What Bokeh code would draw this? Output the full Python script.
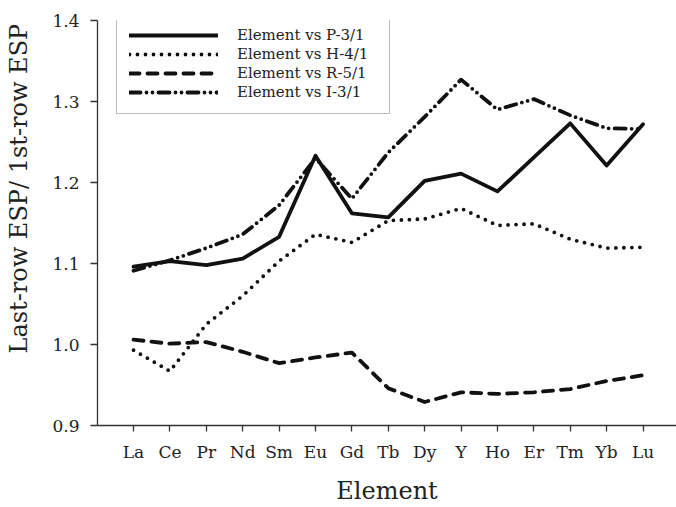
from bokeh.plotting import figure
from bokeh.models import Range1d, FixedTicker, Legend, LegendItem, ColumnDataSource
from bokeh.embed import file_html
from bokeh.resources import INLINE

elements = ["La", "Ce", "Pr", "Nd", "Sm", "Eu", "Gd", "Tb", "Dy", "Y", "Ho", "Er", "Tm", "Yb", "Lu"]
p_3_1 = [1.096, 1.103, 1.098, 1.106, 1.133, 1.233, 1.162, 1.157, 1.202, 1.211, 1.189, 1.231, 1.273, 1.221, 1.272]
h_4_1 = [0.993, 0.967, 1.025, 1.060, 1.103, 1.136, 1.126, 1.153, 1.155, 1.168, 1.147, 1.149, 1.130, 1.119, 1.120]
r_5_1 = [1.006, 1.001, 1.003, 0.991, 0.977, 0.984, 0.990, 0.946, 0.929, 0.941, 0.939, 0.941, 0.945, 0.955, 0.962]
i_3_1 = [1.091, 1.104, 1.119, 1.136, 1.172, 1.230, 1.180, 1.237, 1.281, 1.327, 1.290, 1.303, 1.283, 1.267, 1.266]
series_labels = ["Element vs P-3/1", "Element vs H-4/1", "Element vs R-5/1", "Element vs I-3/1"]
y_ticks = [0.9, 1.0, 1.1, 1.2, 1.3, 1.4]
y_tick_labels = ["0.9", "1.0", "1.1", "1.2", "1.3", "1.4"]
x_title = "Element"
y_title = "Last-row ESP/ 1st-row ESP"

xs = list(range(len(elements)))
src = ColumnDataSource(dict(x=xs, p=p_3_1, h=h_4_1, r=r_5_1, i=i_3_1))

FONT = "DejaVu Serif"
TXT = "#222222"

p = figure(width=676, height=507, output_backend="svg", toolbar_location=None,
           x_range=Range1d(-0.99, 14.92), y_range=Range1d(0.9, 1.4),
           min_border_left=97, min_border_right=0, min_border_top=20, min_border_bottom=79)
p.outline_line_color = None
p.grid.visible = False
p.background_fill_color = "white"
p.border_fill_color = "white"

styles = [("p", "solid"), ("h", "0 8"), ("r", "10 8"), ("i", "11 6 0 6 0 6")]
renderers = []
for key, dash in styles:
    rr = p.line("x", key, source=src, line_color="#111111", line_width=3.8,
                line_dash=dash, line_cap="round", line_join="round")
    renderers.append(rr)

for ax in (p.xaxis[0], p.yaxis[0]):
    ax.axis_line_color = "#333333"
    ax.axis_line_width = 1.3
    ax.major_tick_line_color = "#333333"
    ax.major_tick_line_width = 1.3
    ax.major_tick_in = 0
    ax.minor_tick_line_color = None
    ax.major_label_text_font = FONT
    ax.major_label_text_font_size = "17px"
    ax.major_label_text_color = TXT
    ax.axis_label_text_font = FONT
    ax.axis_label_text_font_size = "24px"
    ax.axis_label_text_font_style = "normal"
    ax.axis_label_text_color = TXT

p.xaxis.ticker = FixedTicker(ticks=xs)
p.xaxis.major_label_overrides = {i: e for i, e in enumerate(elements)}
p.xaxis.major_tick_out = 6
p.xaxis.major_label_standoff = 10
p.xaxis.axis_label = x_title
p.xaxis.axis_label_standoff = 12

p.yaxis.ticker = FixedTicker(ticks=y_ticks)
p.yaxis.major_label_overrides = {t: l for t, l in zip(y_ticks, y_tick_labels)}
p.yaxis.major_tick_out = 7
p.yaxis.major_label_standoff = 11
# leading no-break spaces shift the visible (rotated) title upward, as in the reference
p.yaxis.axis_label = "\u00a0" * 9 + y_title
p.yaxis.axis_label_standoff = 16

legend = Legend(items=[LegendItem(label=lab, renderers=[rr]) for lab, rr in zip(series_labels, renderers)],
                location=(19, 311), margin=0, padding=12, spacing=1,
                glyph_width=89, glyph_height=18, label_height=18, label_standoff=19, label_width=140,
                label_text_font=FONT, label_text_font_size="15px", label_text_color=TXT,
                border_line_color="#777777", border_line_width=1.5, background_fill_color="white",
                background_fill_alpha=1.0)
p.add_layout(legend)

open("out.html", "w").write(file_html(p, INLINE))
